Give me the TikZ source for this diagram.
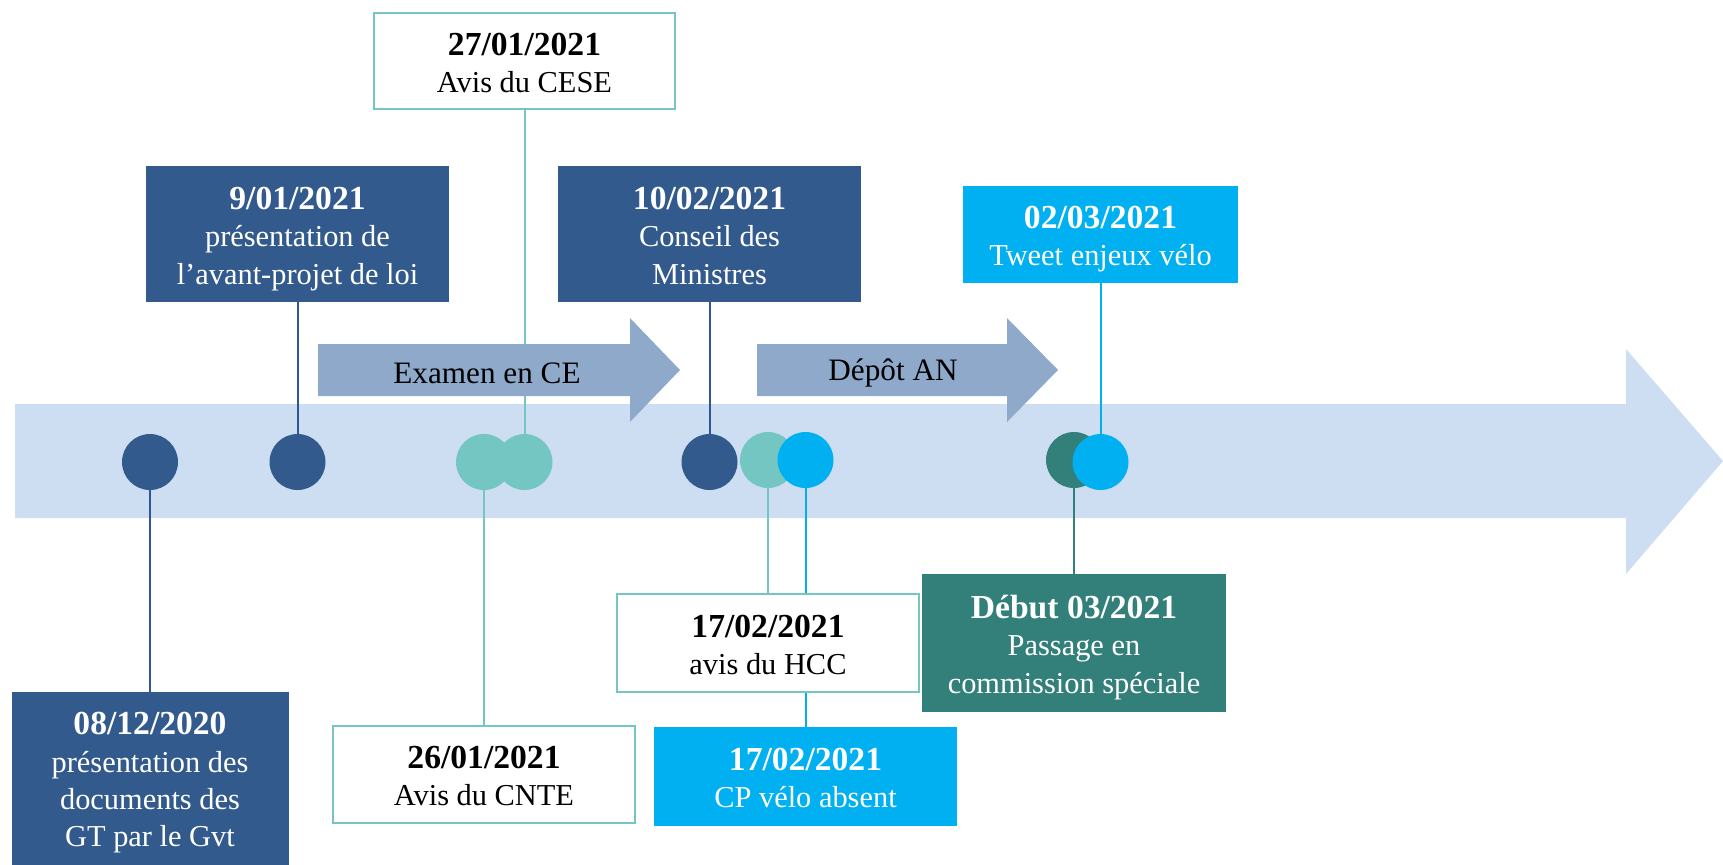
\documentclass[tikz,border=0pt]{standalone}
\usepackage{fontspec}
\setmainfont{Liberation Serif}
\definecolor{dblue}{HTML}{335A8C}
\definecolor{dline}{HTML}{2F5597}
\definecolor{tealA}{HTML}{73C6C1}
\definecolor{bblue}{HTML}{00B0F0}
\definecolor{dteal}{HTML}{337F7A}
\definecolor{phasecol}{HTML}{8FA9CA}
\definecolor{axiscol}{HTML}{CDDEF3}
\pgfdeclarelayer{axislayer}
\pgfdeclarelayer{links}
\pgfdeclarelayer{phases}
\pgfsetlayers{axislayer,links,phases,main}
\newcommand\evdate[1]{\rule{0pt}{17.7pt}{\fontsize{16.8}{18.7}\selectfont\bfseries #1}}
\newcommand\evend{\rule[-5pt]{0pt}{5pt}}
\newcommand\evenddeep{\rule[-13pt]{0pt}{13pt}}
\tikzset{
  evt/.style={rectangle, align=center, inner sep=0pt, outer sep=0pt,
    font=\fontsize{15.2}{18.7}\selectfont},
  darkbox/.style={evt, fill=dblue, text=white},
  brightbox/.style={evt, fill=bblue, text=white},
  dtealbox/.style={evt, fill=dteal, text=white},
  whitebox/.style={evt, fill=white, draw=tealA, line width=1pt, text=black},
  dot/.style={circle, minimum size=28pt, inner sep=0pt, outer sep=0pt},
  link/.style={line width=1pt},
  phase/.style={fill=phasecol, draw=none},
  phasetext/.style={font=\fontsize{15.6}{18.7}\selectfont, text=black, inner sep=0pt}
}
\begin{document}
\begin{tikzpicture}[x=0.5pt,y=-0.5pt]
\useasboundingbox (0,0) rectangle (1723,864);
\clip (0,0) rectangle (1723,864);

% timeline axis
\begin{pgfonlayer}{axislayer}
\fill[axiscol] (15,404) -- (1626,404) -- (1626,349) -- (1723,461) -- (1626,574) -- (1626,518) -- (15,518) -- cycle;
\end{pgfonlayer}

% phase arrows
\begin{pgfonlayer}{phases}
\fill[phase] (318,344) -- (630,344) -- (630,318) -- (680,370) -- (630,422) -- (630,396) -- (318,396) -- cycle;
\fill[phase] (757,344) -- (1007,344) -- (1007,318) -- (1058,370) -- (1007,422) -- (1007,396) -- (757,396) -- cycle;
\end{pgfonlayer}
\node[phasetext] (examen) at (487,373) {Examen en CE};
\node[phasetext] (depot) at (893,373) {Dépôt AN};

% dots
\node[dot, fill=dblue] (c1) at (150,462) {};
\node[dot, fill=dblue] (c2) at (297.5,462) {};
\node[dot, fill=tealA] (c3) at (484,462) {};
\node[dot, fill=tealA] (c4) at (524.5,462) {};
\node[dot, fill=dblue] (c5) at (709.5,462) {};
\node[dot, fill=tealA] (c6) at (768,460) {};
\node[dot, fill=bblue] (c7) at (805.5,460) {};
\node[dot, fill=dteal] (c8) at (1074,460) {};
\node[dot, fill=bblue] (c9) at (1100.5,462) {};

% event boxes
\node[whitebox, minimum width=150.5pt, minimum height=48pt] (cese) at (524.5,61)
  {\evdate{27/01/2021}\\Avis du CESE\evend};
\node[darkbox, minimum width=151.5pt, minimum height=68pt] (b0901) at (297.5,234)
  {\evdate{9/01/2021}\\présentation de\\l’avant-projet de loi\evend};
\node[darkbox, minimum width=151.5pt, minimum height=68pt] (b1002) at (709.5,234)
  {\evdate{10/02/2021}\\Conseil des\\Ministres\evend};
\node[brightbox, minimum width=137.5pt, minimum height=48.5pt] (tweet) at (1100.5,234.5)
  {\evdate{02/03/2021}\\Tweet enjeux vélo\evend};
\node[darkbox, minimum width=138.5pt, minimum height=94pt] (b0812) at (150,786)
  {\evdate{08/12/2020}\\présentation des\\documents des\\GT par le Gvt\evenddeep};
\node[whitebox, minimum width=151pt, minimum height=48.5pt] (cnte) at (484,774.5)
  {\evdate{26/01/2021}\\Avis du CNTE\evend};
\node[whitebox, minimum width=151pt, minimum height=49pt] (hcc) at (768,643)
  {\evdate{17/02/2021}\\avis du HCC\evend};
\node[brightbox, minimum width=151.5pt, minimum height=49.5pt] (cp) at (805.5,776.5)
  {\evdate{17/02/2021}\\CP vélo absent\evend};
\node[dtealbox, minimum width=152pt, minimum height=69pt] (debut) at (1074,643)
  {\evdate{Début 03/2021}\\Passage en\\commission spéciale\evend};

% connectors
\begin{pgfonlayer}{links}
\draw[link, dline] (b0812) -- (c1);
\draw[link, dline] (b0901) -- (c2);
\draw[link, tealA] (cnte) -- (c3);
\draw[link, tealA] (cese) -- (c4);
\draw[link, dline] (b1002) -- (c5);
\draw[link, tealA] (hcc) -- (c6);
\draw[link, bblue] (cp) -- (c7);
\draw[link, dteal] (debut) -- (c8);
\draw[link, bblue] (tweet) -- (c9);
\end{pgfonlayer}
\end{tikzpicture}
\end{document}
